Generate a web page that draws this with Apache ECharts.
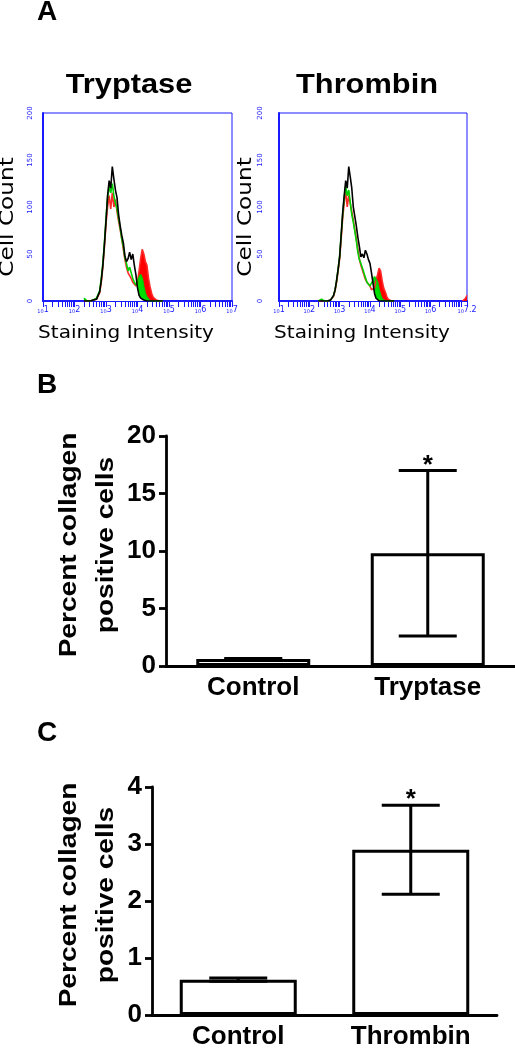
<!DOCTYPE html>
<html><head><meta charset="utf-8">
<script src="https://cdn.jsdelivr.net/npm/echarts@6/dist/echarts.min.js"></script>
<style>html,body{margin:0;padding:0;background:#fff}#c{width:515px;height:1050px}</style>
</head><body><div id="c"></div>
<script>
// ---------- Panel A: flow histograms (x in decades of staining intensity) ----------
const bins = [2.30,2.35,2.40,2.45,2.50,2.55,2.60,2.65,2.70,2.75,2.80,2.85,2.90,2.95,3.00,3.05,3.10,3.15,3.20,3.25,3.30,3.35,3.40,3.45,3.50,3.55,3.60,3.65,3.70,3.75,3.80,3.85,3.90,3.95,4.00,4.05,4.10,4.15,4.20,4.25,4.30,4.35,4.40,4.45,4.50,4.55,4.60,4.65,4.70,4.75,4.80];

const tryptaseBlack = [0,0,0,0,0,0, 1,1,2,4,10,22,38,60,85,112,128,120,143,130,118,110,92,80,70,62,48,42,45,52,44,50,38,28,14,6,3,2,1,1,0, 0,0,0,0,0,0,0,0,0,0];
const tryptaseRed   = [0,0,0,0,0,0, 1,1,2,4,9,20,36,58,82,100,112,98,115,100,108,95,85,76,66,55,44,36,30,28,24,20,18,16,20,32,45,55,50,42,38,24,15,8,4,2,1,1,0,0,0];
const tryptaseGreen = [3,1,0,0,0,2, 1,2,3,5,11,24,40,62,88,110,122,115,125,112,104,98,88,78,66,58,46,40,32,36,30,24,20,17,18,25,28,24,15,8,4,2,0, 0,0,0,0,0,0,0,0];

const thrombinBlack = [0,0,0,0,0,0, 0,0,1,3,6,12,22,34,47,70,94,112,128,120,143,132,120,100,90,80,68,58,47,50,46,54,50,44,40,30,19,8,3,1,0, 0,0,0,0,0,0,0,0,0,0];
const thrombinRed   = [0,0,0,0,0,0, 0,1,1,2,5,11,20,32,45,66,88,104,118,100,112,111,95,86,76,66,55,45,38,33,28,23,20,18,16,12,10,14,22,28,35,32,22,14,10,5,2,1,0,0,0];
const thrombinGreen = [0,0,2,0,0,0, 0,1,1,3,6,12,22,34,48,70,92,110,122,112,118,105,92,84,74,64,52,44,40,35,30,25,20,18,16,18,22,26,26,20,12,6,2,0, 0,0,0,0,0,0,0];

const thrombinTailBins = [7.05, 7.10, 7.15, 7.20];
const thrombinTailRed  = [0, 1, 3, 6];

const histYTicks = [0, 50, 100, 150, 200];
const tryptaseDecadeLabels = [1, 2, 3, 4, 5, 6, 7];
const thrombinDecadeLabels = [1, 2, 3, 4, 5, 6, 7.2];

// ---------- Panels B and C: bar charts ----------
const catsB = ['Control', 'Tryptase'];
const meanB = [0.6, 9.8];
const errB  = [0.05, 7.2];
const sigB  = ['', '*'];
const yTicksB = [0, 5, 10, 15, 20];

const catsC = ['Control', 'Thrombin'];
const meanC = [0.62, 2.9];
const errC  = [0.03, 0.78];
const sigC  = ['', '*'];
const yTicksC = [0, 1, 2, 3, 4];

// ---------- helpers ----------
const BLUE = '#1a1aff';
const BOLD = 'Liberation Sans';
function logTicks(maxDec) {
  const out = [];
  for (let d = 1; d <= Math.floor(maxDec); d++) {
    out.push(d);
    for (let k = 2; k <= 9; k++) { const v = d + Math.log10(k); if (v <= maxDec) out.push(v); }
  }
  if (out.indexOf(maxDec) < 0) out.push(maxDec);
  return out;
}
function pairs(xs, ys) { return xs.map((x, i) => [x, ys[i]]); }

function histAxes(g, maxDec, labels, labelMargin) {
  const x = {
    gridIndex: g, type: 'value', min: 1, max: maxDec,
    splitLine: { show: false },
    axisLine: { lineStyle: { color: BLUE, width: 2 } },
    axisTick: { customValues: logTicks(maxDec), length: 6, lineStyle: { color: BLUE, width: 1 } },
    axisLabel: {
      customValues: labels, margin: 5, color: BLUE,
      formatter: v => '{b|10}{e|' + v + '}',
      rich: { b: { fontSize: 5, color: BLUE, fontFamily: 'DejaVu Sans' }, e: { fontSize: 8, color: BLUE, fontFamily: 'DejaVu Sans', padding: [0, 0, 3, 0] } }
    }
  };
  const y = {
    gridIndex: g, type: 'value', min: 0, max: 200, interval: 50,
    splitLine: { show: false },
    axisLine: { show: true, lineStyle: { color: BLUE, width: 2 } },
    axisTick: { show: false },
    axisLabel: { rotate: 90, fontSize: 7, color: BLUE, fontFamily: 'DejaVu Sans', margin: labelMargin,
      customValues: histYTicks }
  };
  return [x, y];
}

function histSeries(g, black, green, red) {
  const base = { type: 'line', xAxisIndex: g, yAxisIndex: g, symbol: 'none', silent: true, animation: false };
  return [
    Object.assign({}, base, { data: pairs(bins, red), lineStyle: { opacity: 0 }, areaStyle: { color: '#ff0000', opacity: 1 }, z: 2 }),
    Object.assign({}, base, { data: pairs(bins, green), lineStyle: { opacity: 0 }, areaStyle: { color: '#00e000', opacity: 1 }, z: 2 }),
    Object.assign({}, base, { data: pairs(bins, black), lineStyle: { opacity: 0 }, areaStyle: { color: '#ffffff', opacity: 1 }, z: 2 }),
    Object.assign({}, base, { data: pairs(bins, red), lineStyle: { color: '#ff2a2a', width: 1.6 }, z: 3 }),
    Object.assign({}, base, { data: pairs(bins, green), lineStyle: { color: '#00d000', width: 1.6 }, z: 3 }),
    Object.assign({}, base, { data: pairs(bins, black), lineStyle: { color: '#000000', width: 1.6 }, z: 4 })
  ];
}

function barAxes(g, cats, max, interval, yTicks) {
  const lab = { color: '#000', fontSize: 26, fontWeight: 'bold', fontFamily: BOLD };
  return [
    { gridIndex: g, type: 'category', data: cats,
      axisLine: { lineStyle: { color: '#000', width: 2.8 } },
      axisTick: { alignWithLabel: true, length: 7, lineStyle: { color: '#000', width: 2.8 } },
      axisLabel: Object.assign({ margin: 9 }, lab) },
    { gridIndex: g, type: 'value', min: 0, max: max, interval: interval,
      splitLine: { show: false },
      axisLine: { show: true, lineStyle: { color: '#000', width: 2.8 } },
      axisTick: { show: true, length: 7, lineStyle: { color: '#000', width: 2.8 } },
      axisLabel: Object.assign({ margin: 10, customValues: yTicks }, lab) }
  ];
}

function barSeries(g, mean, err, sig, barW) {
  return [
    { type: 'bar', xAxisIndex: g, yAxisIndex: g, data: mean, barWidth: barW, animation: false, silent: true,
      itemStyle: { color: '#fff', borderColor: '#000', borderWidth: 3 }, z: 2 },
    { type: 'custom', xAxisIndex: g, yAxisIndex: g, animation: false, silent: true, z: 3,
      data: mean.map((m, i) => [i, m, err[i]]),
      renderItem: function (params, api) {
        const i = api.value(0), m = api.value(1), e = api.value(2);
        const top = api.coord([i, m + e]);
        const bot = api.coord([i, m - e]);
        const hw = 29;
        const st = { stroke: '#000', lineWidth: 3 };
        return { type: 'group', children: [
          { type: 'line', shape: { x1: top[0], y1: top[1], x2: bot[0], y2: bot[1] }, style: st },
          { type: 'line', shape: { x1: top[0] - hw, y1: top[1], x2: top[0] + hw, y2: top[1] }, style: st },
          { type: 'line', shape: { x1: bot[0] - hw, y1: bot[1], x2: bot[0] + hw, y2: bot[1] }, style: st },
          { type: 'text', x: top[0], y: top[1] + 8, style: { text: sig[params.dataIndex], fill: '#000',
            font: 'bold 26px "Liberation Sans"', align: 'center', verticalAlign: 'bottom' } }
        ] };
      } }
  ];
}

function txt(text, x, y, font, opts) {
  return Object.assign({ type: 'text', x: x, y: y, silent: true,
    style: { text: text, font: font, fill: '#000', align: 'center', verticalAlign: 'middle' } }, opts || {});
}
function letter(text, y) {
  return { type: 'text', x: 37, y: y, silent: true,
    style: { text: text, font: 'bold 28px "Liberation Sans"', fill: '#000', align: 'left', verticalAlign: 'middle' } };
}

const [hx0, hy0] = histAxes(0, 7, tryptaseDecadeLabels, 9);
const [hx1, hy1] = histAxes(1, 7.2, thrombinDecadeLabels, 15);
const [bx, by] = barAxes(2, catsB, 20, 5, yTicksB);
const [cx, cy] = barAxes(3, catsC, 4, 1, yTicksC);

const tailSeries = [
  { type: 'line', xAxisIndex: 1, yAxisIndex: 1, symbol: 'none', silent: true, animation: false,
    data: pairs(thrombinTailBins, thrombinTailRed), lineStyle: { color: '#ff2a2a', width: 1.4 },
    areaStyle: { color: '#ff0000', opacity: 1 }, z: 3 }
];

const option = {
  backgroundColor: '#ffffff',
  animation: false,
  grid: [
    { left: 43, top: 113, width: 189, height: 188, show: true, borderColor: BLUE, borderWidth: 1, backgroundColor: 'transparent' },
    { left: 279, top: 113, width: 188, height: 188, show: true, borderColor: BLUE, borderWidth: 1, backgroundColor: 'transparent' },
    { left: 166, top: 436, right: 0, height: 230 },
    { left: 152, top: 787, width: 345, height: 229 }
  ],
  xAxis: [hx0, hx1, bx, cx],
  yAxis: [hy0, hy1, by, cy],
  series: [].concat(
    histSeries(0, tryptaseBlack, tryptaseGreen, tryptaseRed),
    histSeries(1, thrombinBlack, thrombinGreen, thrombinRed),
    tailSeries,
    barSeries(2, meanB, errB, sigB, 114),
    barSeries(3, meanC, errC, sigC, 117)
  ),
  graphic: [
    letter('A', 12),
    letter('B', 385),
    letter('C', 733),
    txt('Tryptase', 129, 85, 'bold 28px "Liberation Sans"', { scaleX: 1.1 }),
    txt('Thrombin', 367, 85, 'bold 28px "Liberation Sans"', { scaleX: 1.1 }),
    txt('Staining Intensity', 126, 334, '17px "DejaVu Sans"', { scaleX: 1.18 }),
    txt('Staining Intensity', 362, 334, '17px "DejaVu Sans"', { scaleX: 1.18 }),
    txt('Cell Count', 8, 217, '20px "DejaVu Sans"', { rotation: Math.PI / 2, scaleX: 1.16 }),
    txt('Cell Count', 246, 217, '20px "DejaVu Sans"', { rotation: Math.PI / 2, scaleX: 1.16 }),
    txt('Percent collagen', 69, 545, 'bold 24px "Liberation Sans"', { rotation: Math.PI / 2, scaleX: 1.17 }),
    txt('positive cells', 106, 545, 'bold 24px "Liberation Sans"', { rotation: Math.PI / 2, scaleX: 1.17 }),
    txt('Percent collagen', 69, 895, 'bold 24px "Liberation Sans"', { rotation: Math.PI / 2, scaleX: 1.17 }),
    txt('positive cells', 106, 895, 'bold 24px "Liberation Sans"', { rotation: Math.PI / 2, scaleX: 1.17 })
  ]
};

const chart = echarts.init(document.getElementById('c'), null, { renderer: 'canvas', width: 515, height: 1050 });
chart.setOption(option);
</script>
</body></html>
